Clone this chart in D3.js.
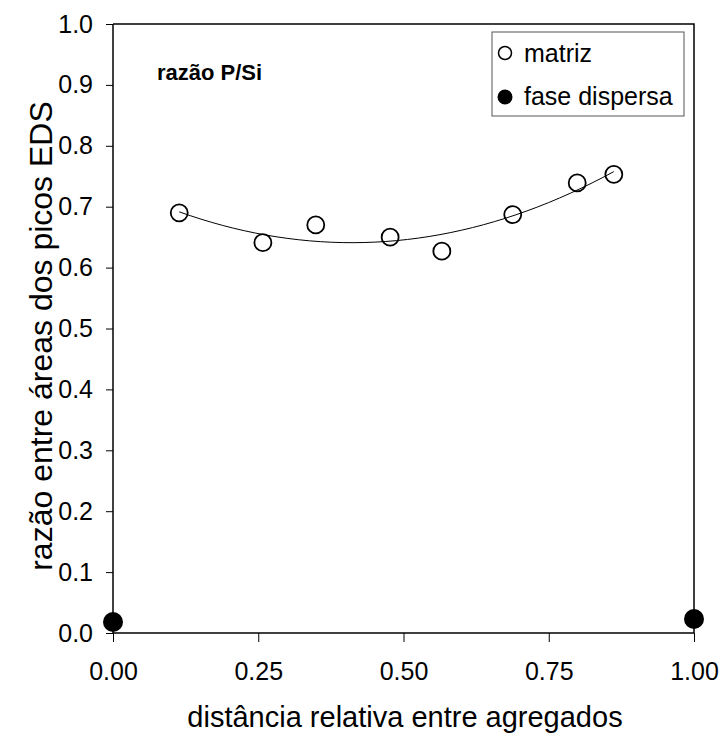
<!DOCTYPE html>
<html>
<head>
<meta charset="utf-8">
<script src="https://cdn.jsdelivr.net/npm/d3@7"></script>
<style>
  body { margin: 0; background: #fff; }
  text { font-family: Arial, "Liberation Sans", sans-serif; }
</style>
</head>
<body>
<div id="chart"></div>
<script>
// matriz (open circles)
let matrizX = [0.114, 0.258, 0.349, 0.477, 0.566, 0.688, 0.799, 0.862];
let matrizY = [0.690, 0.641, 0.670, 0.650, 0.627, 0.687, 0.739, 0.753];
// fase dispersa (filled circles)
let dispX = [0.0, 1.0];
let dispY = [0.018, 0.023];

let xTicks = [0, 0.25, 0.5, 0.75, 1.0];
let yTicks = [0, 0.1, 0.2, 0.3, 0.4, 0.5, 0.6, 0.7, 0.8, 0.9, 1.0];

let margin = { top: 24, right: 29, bottom: 103, left: 113 },
  width = 723 - margin.left - margin.right,
  height = 736 - margin.top - margin.bottom;

let svg = d3.select('#chart').
append('svg').
attr('width', 723).
attr('height', 736).
append('g').
attr('transform', 'translate(' + margin.left + ',' + margin.top + ')');

let x = d3.scaleLinear().domain([0, 1]).range([0, width]);
let y = d3.scaleLinear().domain([0, 1]).range([height, 0]);

// frame (top + right)
svg.append('path').
attr('d', 'M0,0H' + width + 'V' + height).
attr('fill', 'none').
attr('stroke', '#000').
attr('stroke-width', 1.5);

// axes
let xAxis = svg.append('g').
attr('transform', 'translate(0,' + height + ')').
call(d3.axisBottom(x).tickValues(xTicks).tickSize(9).tickPadding(20).tickFormat(d3.format('.2f')));

let yAxis = svg.append('g').
call(d3.axisLeft(y).tickValues(yTicks).tickSize(7).tickPadding(13).tickFormat(d3.format('.1f')));

[xAxis, yAxis].forEach(function (a) {
  a.select('.domain').attr('stroke-width', 1.5).attr('d', a === xAxis ? 'M0,0H' + width : 'M0,0V' + height);
  a.selectAll('.tick line').attr('stroke-width', 1);
  a.selectAll('text').style('font-size', '25px').attr('fill', '#000').style('font-family', 'Arial, "Liberation Sans", sans-serif');
});

// quadratic least squares fit of matriz
function quadFit(xs, ys) {
  let n = xs.length, s = [0, 0, 0, 0, 0], t = [0, 0, 0];
  for (let i = 0; i < n; i++) {
    for (let k = 0; k < 5; k++) s[k] += Math.pow(xs[i], k);
    for (let k = 0; k < 3; k++) t[k] += ys[i] * Math.pow(xs[i], k);
  }
  let A = [[s[0], s[1], s[2], t[0]], [s[1], s[2], s[3], t[1]], [s[2], s[3], s[4], t[2]]];
  for (let i = 0; i < 3; i++) {
    for (let j = i + 1; j < 3; j++) {
      let f = A[j][i] / A[i][i];
      for (let k = i; k < 4; k++) A[j][k] -= f * A[i][k];
    }
  }
  let c = [0, 0, 0];
  for (let i = 2; i >= 0; i--) {
    let v = A[i][3];
    for (let k = i + 1; k < 3; k++) v -= A[i][k] * c[k];
    c[i] = v / A[i][i];
  }
  return c;
}
let coef = quadFit(matrizX, matrizY);
let x0 = d3.min(matrizX), x1 = d3.max(matrizX);
let fitPts = d3.range(0, 41).map(function (i) {
  let xv = x0 + (x1 - x0) * i / 40;
  return [xv, coef[0] + coef[1] * xv + coef[2] * xv * xv];
});

svg.append('path').
datum(fitPts).
attr('fill', 'none').
attr('stroke', '#000').
attr('stroke-width', 1).
attr('d', d3.line().x(d => x(d[0])).y(d => y(d[1])));

// points
svg.selectAll('.matriz').
data(matrizX).
enter().
append('circle').
attr('class', 'matriz').
attr('cx', d => x(d)).
attr('cy', (d, i) => y(matrizY[i])).
attr('r', 8.5).
attr('fill', 'none').
attr('stroke', '#000').
attr('stroke-width', 1.8);

svg.selectAll('.disp').
data(dispX).
enter().
append('circle').
attr('class', 'disp').
attr('cx', d => x(d)).
attr('cy', (d, i) => y(dispY[i])).
attr('r', 10).
attr('fill', '#000');

// inner label
svg.append('text').
attr('x', 157 - margin.left).
attr('y', 80 - margin.top).
style('font-size', '22px').
style('font-weight', 'bold').
text('razão P/Si');

// legend
let legend = svg.append('g').attr('transform', 'translate(' + (492 - margin.left) + ',' + (32 - margin.top) + ')');
legend.append('rect').
attr('width', 192).
attr('height', 84).
attr('fill', '#fff').
attr('stroke', '#555').
attr('stroke-width', 1);
legend.append('circle').attr('cx', 13).attr('cy', 21).attr('r', 6.5).attr('fill', 'none').attr('stroke', '#000').attr('stroke-width', 1.5);
legend.append('text').attr('x', 32).attr('y', 30).style('font-size', '25px').text('matriz');
legend.append('circle').attr('cx', 13).attr('cy', 65).attr('r', 7.5).attr('fill', '#000');
legend.append('text').attr('x', 32).attr('y', 73).style('font-size', '25px').text('fase dispersa');

// axis titles
svg.append('text').
attr('x', 405 - margin.left).
attr('y', 727 - margin.top).
attr('text-anchor', 'middle').
style('font-size', '29px').
text('distância relativa entre agregados');

svg.append('text').
attr('transform', 'translate(' + (52 - margin.left) + ',' + (336 - margin.top) + ') rotate(-90)').
attr('text-anchor', 'middle').
style('font-size', '32px').
text('razão entre áreas dos picos EDS');
</script>
</body>
</html>
